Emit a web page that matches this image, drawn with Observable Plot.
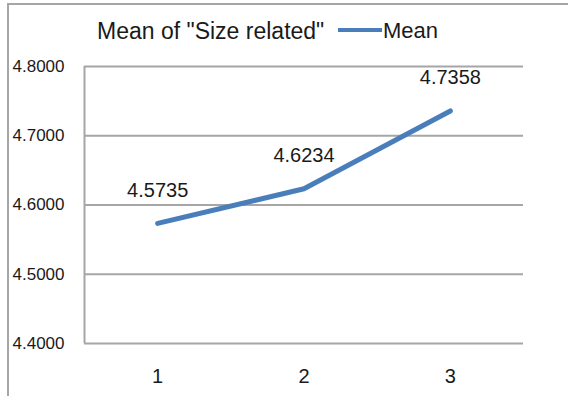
<!DOCTYPE html>
<html>
<head>
<meta charset="utf-8">
<script src="https://cdn.jsdelivr.net/npm/d3@7"></script>
<script src="https://cdn.jsdelivr.net/npm/@observablehq/plot@0.6"></script>
<style>
  html, body { margin: 0; padding: 0; background: #fff; }
  #chart {
    position: relative; width: 568px; height: 396px; overflow: hidden;
    font-family: "Liberation Sans", Arial, sans-serif; color: #1a1a1a;
  }
  #border {
    position: absolute; left: 7px; top: 3px; width: 600px; height: 420px;
    border-left: 2px solid #a6a6a6; border-top: 2px solid #a6a6a6;
  }
  #plot { position: absolute; left: 0; top: 0; }
  .title { position: absolute; left: 97px; top: 20px; font-size: 23px; line-height: 22px; white-space: nowrap; }
  .legend { position: absolute; left: 338px; top: 20px; display: flex; align-items: center; font-size: 22px; line-height: 22px; }
  .legend .swatch { width: 44px; height: 4px; background: #4a7ebb; margin-right: 1px; margin-top: -3px; }
</style>
</head>
<body>
<div id="chart">
  <div id="border"></div>
  <div id="plot"></div>
  <div class="title">Mean of "Size related"</div>
  <div class="legend"><span class="swatch"></span><span>Mean</span></div>
</div>
<script>
// Survey waves and the mean of the "Size related" item at each wave
const waves = [1, 2, 3];
const means = [4.5735, 4.6234, 4.7358];
const yTicks = [4.4, 4.5, 4.6, 4.7, 4.8];

const rows = waves.map((w, i) => ({wave: w, mean: means[i]}));
const gray = "#a6a6a6";
const fmt = d3.format(".4f");

const chart = Plot.plot({
  width: 568,
  height: 396,
  marginLeft: 84,
  marginRight: 45,
  marginTop: 66,
  marginBottom: 53,
  style: {fontFamily: "'Liberation Sans', Arial, sans-serif", background: "transparent", color: "#1a1a1a"},
  x: {domain: [0.5, 3.5]},
  y: {domain: [4.4, 4.8]},
  marks: [
    Plot.ruleY(yTicks, {stroke: gray, strokeWidth: 2}),
    Plot.ruleX([0.5], {stroke: gray, strokeWidth: 2}),
    Plot.axisY(yTicks, {
      tickSize: 0, tickPadding: 72, textAnchor: "start",
      tickFormat: fmt, fontSize: 17, fill: "#1a1a1a", label: null
    }),
    Plot.axisX(waves, {
      tickSize: 0, tickPadding: 25, tickFormat: d3.format("d"),
      fontSize: 20, fill: "#1a1a1a", label: null
    }),
    Plot.line(rows, {x: "wave", y: "mean", stroke: "#4a7ebb", strokeWidth: 5}),
    Plot.text(rows, {
      x: "wave", y: "mean", text: d => fmt(d.mean),
      dy: -33, fontSize: 20, fill: "#1a1a1a"
    })
  ]
});

document.getElementById("plot").appendChild(chart);
</script>
</body>
</html>
